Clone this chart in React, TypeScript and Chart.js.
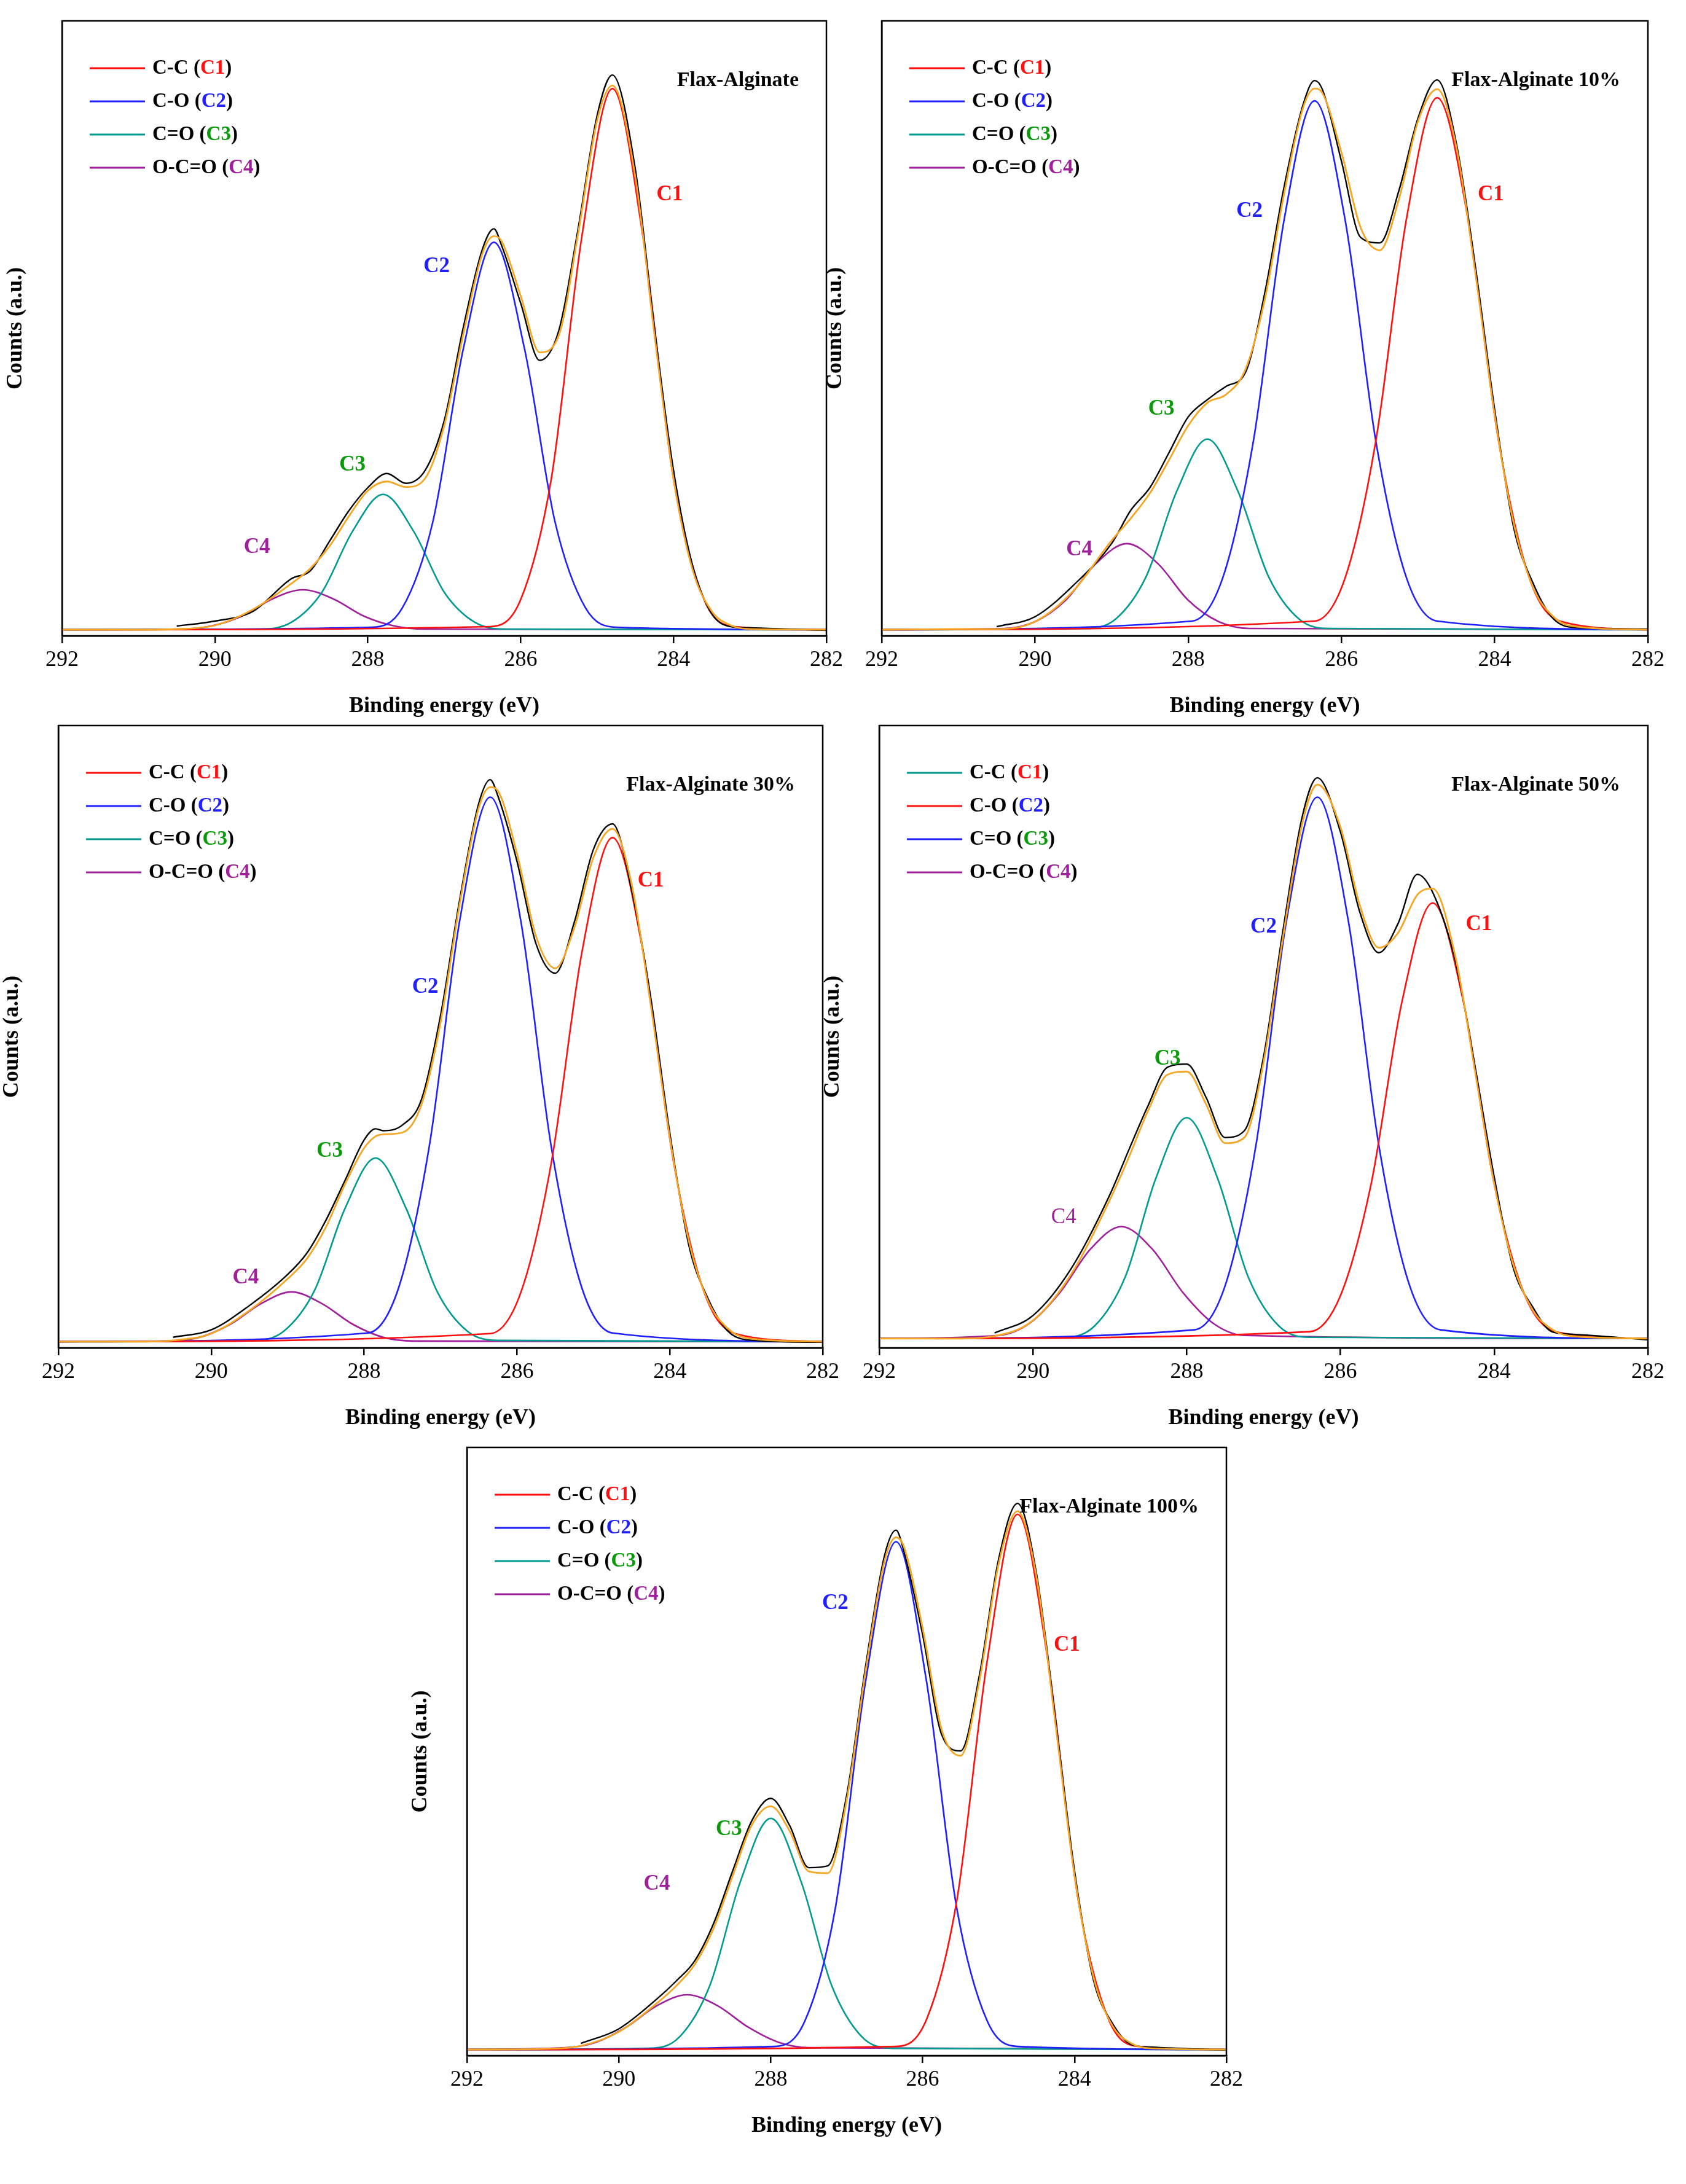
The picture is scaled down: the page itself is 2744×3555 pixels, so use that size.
import Chart from "chart.js/auto";
import { useEffect, useRef } from "react";

// offsets (eV) from each peak centre at which the half-profiles below are read
const peakOffsets = [0, 0.4, 0.8, 1.2, 1.6];

const titles = ["Flax-Alginate", "Flax-Alginate 10%", "Flax-Alginate 30%", "Flax-Alginate 50%", "Flax-Alginate 100%"];
const baselines = [1, 1, 1, 1.5, 1];

// peak centres (C1..C4) per panel
const centres = [
  [284.8, 286.35, 287.8, 288.85],
  [284.75, 286.35, 287.75, 288.8],
  [284.75, 286.35, 287.85, 288.95],
  [284.8, 286.3, 288.0, 288.85],
  [284.75, 286.35, 288.0, 289.1],
];

// component half-profiles (value at centre, +0.4, +0.8, +1.2, +1.6 eV)
const c1Values = [
  [89, 64.9, 25.5, 5.9, 1.5],
  [87.5, 67.9, 31.8, 9.5, 2.4],
  [82, 63.6, 29.8, 8.9, 2.3],
  [71.5, 55.6, 26.4, 8.4, 2.6],
  [89, 64.9, 25.5, 5.9, 1.5],
];
const c2Values = [
  [64, 46.7, 18.5, 4.5, 1.4],
  [87, 67.5, 31.6, 9.4, 2.4],
  [88.5, 68.6, 32.2, 9.6, 2.4],
  [88.5, 68.8, 32.5, 10.0, 2.9],
  [84.5, 61.6, 24.2, 5.7, 1.5],
];
const c3Values = [
  [23, 17.0, 7.1, 2.2, 1.1],
  [32, 23.5, 9.6, 2.7, 1.2],
  [30.5, 22.4, 9.2, 2.7, 1.2],
  [37, 27.3, 11.4, 3.5, 1.7],
  [39, 28.6, 11.6, 3.1, 1.2],
];
const c4Values = [
  [7.5, 6.0, 3.2, 1.6, 1.1],
  [15, 11.8, 5.8, 2.3, 1.2],
  [9, 7.1, 3.8, 1.7, 1.1],
  [19.5, 15.9, 8.9, 3.9, 2.0],
  [10, 8.2, 4.7, 2.2, 1.3],
];

// fitted envelope
const envX = [
  [292, 291, 290.5, 290, 289.5, 289, 288.75, 288.5, 288.25, 288, 287.75, 287.5, 287.25, 287, 286.75, 286.5, 286.35, 286.25, 286, 285.75, 285.5, 285.25, 285, 284.8, 284.5, 284.25, 284, 283.75, 283.5, 283.25, 283, 282],
  [292, 291, 290.5, 290, 289.5, 289, 288.75, 288.5, 288.25, 288, 287.75, 287.5, 287.25, 287, 286.75, 286.5, 286.35, 286.25, 286, 285.75, 285.5, 285.25, 285, 284.75, 284.5, 284.25, 284, 283.75, 283.5, 283.25, 283, 282],
  [292, 291, 290.5, 290, 289.5, 289, 288.75, 288.5, 288.25, 288, 287.85, 287.75, 287.5, 287.25, 287, 286.75, 286.5, 286.35, 286.25, 286, 285.75, 285.5, 285.25, 285, 284.75, 284.5, 284.25, 284, 283.75, 283.5, 283.25, 283, 282],
  [292, 291, 290.5, 290, 289.5, 289, 288.75, 288.5, 288.25, 288, 287.75, 287.5, 287.25, 287, 286.75, 286.5, 286.3, 286, 285.75, 285.5, 285.25, 285, 284.8, 284.5, 284.25, 284, 283.75, 283.5, 283.25, 283, 282],
  [292, 291, 290.5, 290, 289.5, 289.25, 289, 288.75, 288.5, 288.25, 288, 287.75, 287.5, 287.25, 287, 286.75, 286.5, 286.35, 286.25, 286, 285.75, 285.5, 285.25, 285, 284.75, 284.5, 284.25, 284, 283.75, 283.5, 283.25, 283, 282],
];
const envY = [
  [1, 1, 1.1, 1.7, 4.3, 8.5, 11, 14.6, 19.4, 23.6, 25.1, 24.2, 25.6, 34.2, 49.1, 62.2, 65, 64.2, 55.3, 46.1, 48.9, 65.3, 83.8, 89.5, 74.6, 49, 25.5, 10.7, 4, 1.7, 1.1, 1],
  [1, 1.1, 1.1, 2.3, 7.3, 15.5, 19.1, 23.2, 28.6, 34.2, 37.9, 39.3, 43.4, 54.7, 71.8, 85.9, 89, 88.3, 78.6, 66.4, 62.7, 71, 83.7, 88.9, 79.5, 58.8, 35.9, 18.2, 7.9, 3.3, 1.6, 1],
  [1, 1, 1.2, 2.3, 6, 11.1, 14.3, 19.4, 26.3, 32.1, 34, 34.3, 34.6, 39.1, 52.3, 71.3, 86.8, 90.1, 89.5, 79.4, 66.1, 61, 67.5, 78.8, 83.4, 74.5, 55.1, 33.7, 17.1, 7.5, 3.2, 1.6, 1],
  [1.5, 1.5, 1.9, 4.4, 11.9, 23.8, 30.7, 38.2, 43.9, 44.4, 39.2, 32.9, 33.8, 45.9, 65.8, 84.1, 90.5, 83.7, 71.2, 64.3, 66.7, 72.8, 73.8, 62.6, 44.5, 26.4, 13.3, 6.1, 3, 1.9, 1.5],
  [1, 1.1, 1.6, 3.9, 8.6, 11.4, 15, 21, 29.6, 37.9, 41, 36.9, 30.3, 30, 42, 63.3, 81.4, 85.2, 83.8, 70.3, 53.6, 49.3, 61.8, 80.8, 89.5, 78.6, 54.4, 29.6, 12.9, 4.9, 2, 1.2, 1],
];
// measured counts, same energies as the envelope from 290.5 eV down
const rawY = [
  [1.6, 2.4, 4.0, 9.3, 10.6, 15.4, 20.3, 24.1, 26.4, 24.8, 26.9, 35.0, 50.2, 62.9, 66.2, 63.5, 54.1, 44.8, 49.7, 66.1, 84.6, 91.2, 75.9, 50.1, 26.9, 11.4, 3.6, 1.5, 1.3, 0.9],
  [1.5, 3.1, 8.2, 15.0, 20.4, 24.1, 29.8, 35.6, 38.4, 40.6, 42.9, 55.8, 72.9, 86.4, 90.3, 88.9, 77.2, 64.8, 63.9, 72.4, 84.2, 90.4, 80.1, 59.9, 36.8, 17.5, 8.6, 3.0, 1.4, 1.1],
  [1.7, 2.9, 6.8, 11.8, 15.2, 20.5, 26.9, 33.4, 35.2, 34.9, 35.8, 39.9, 53.4, 72.0, 87.5, 91.3, 88.7, 78.2, 64.9, 60.2, 68.4, 80.1, 84.2, 73.6, 56.3, 34.5, 16.4, 7.9, 2.8, 1.3, 0.9],
  [2.4, 5.2, 12.8, 24.6, 31.9, 39.0, 45.1, 45.6, 40.3, 33.8, 34.9, 46.8, 66.9, 85.2, 91.6, 82.9, 70.1, 63.5, 68.2, 76.1, 73.2, 61.9, 45.3, 27.5, 12.8, 6.6, 2.6, 2.2, 1.3],
  [2.0, 4.4, 9.3, 12.2, 15.6, 21.8, 30.4, 38.6, 42.3, 37.8, 30.9, 31.2, 42.8, 64.1, 82.3, 86.4, 83.1, 69.2, 52.8, 50.1, 62.7, 81.6, 90.8, 79.2, 55.3, 30.4, 12.4, 5.3, 1.8, 1.4, 0.9],
];

const legendNames = ["C-C", "C-O", "C=O", "O-C=O"];
const peakNames = ["C1", "C2", "C3", "C4"];

const RED = "#ff1010";
const BLUE = "#2020ff";
const TEAL = "#009a8e";
const PURPLE = "#a0209c";
const LABEL_COLORS = [RED, BLUE, "#0a9a0a", PURPLE];
const curveColors = [RED, BLUE, TEAL, PURPLE];
const legendLineColors = [
  curveColors,
  curveColors,
  curveColors,
  [TEAL, RED, BLUE, PURPLE],
  curveColors,
];

// peak label anchors [energy, value]
const labelPos = [
  [[284.05, 71.7], [287.1, 60], [288.2, 27.8], [289.45, 14.4]],
  [[284.05, 71.7], [287.2, 69], [288.35, 36.9], [289.42, 14]],
  [[284.25, 75], [287.2, 58], [288.45, 31.6], [289.55, 11.3]],
  [[284.2, 68], [287.0, 67.6], [288.25, 46.4], [289.6, 20.9]],
  [[284.1, 67.5], [287.15, 74.3], [288.55, 37.2], [289.5, 28.2]],
];

// plot rectangles on the page: left, top, right, bottom
const plotRects = [
  [101, 34, 1345, 1035],
  [1435, 34, 2682, 1035],
  [95, 1181, 1339, 2194],
  [1431, 1181, 2682, 2194],
  [760, 2356, 1996, 3346],
];

const FONT = "'Liberation Serif', 'Times New Roman', serif";
const Y_W = 101;
const X_H = 140;

function Panel({ idx }: { idx: number }) {
  const canvasRef = useRef<HTMLCanvasElement | null>(null);
  const chartRef = useRef<Chart | null>(null);
  const [L, T, R, B] = plotRects[idx];

  useEffect(() => {
    if (!canvasRef.current) return;
    chartRef.current?.destroy();
    const base = baselines[idx];
    const comps = [c1Values, c2Values, c3Values, c4Values].map((set, k) => {
      const half = set[idx];
      const c = centres[idx][k];
      const pts = [{ x: 292, y: base }];
      for (let i = peakOffsets.length - 1; i > 0; i--) pts.push({ x: c + peakOffsets[i], y: half[i] });
      for (let i = 0; i < peakOffsets.length; i++) pts.push({ x: c - peakOffsets[i], y: half[i] });
      pts.push({ x: 282, y: base });
      return pts;
    });
    const env = envX[idx].map((x, i) => ({ x, y: envY[idx][i] }));
    const raw = envX[idx].slice(2).map((x, i) => ({ x, y: rawY[idx][i] }));

    const overlay = {
      id: "overlay",
      afterDraw(chart: any) {
        const ctx = chart.ctx;
        const a = chart.chartArea;
        const xs = chart.scales.x;
        const ys = chart.scales.y;
        ctx.save();
        ctx.strokeStyle = "#000";
        ctx.lineWidth = 2.5;
        ctx.strokeRect(a.left, a.top, a.right - a.left, a.bottom - a.top);
        // legend
        ctx.font = `bold 33px ${FONT}`;
        ctx.textBaseline = "middle";
        legendNames.forEach((name, k) => {
          const y = a.top + 77 + k * 54;
          const x0 = a.left + 45;
          ctx.strokeStyle = legendLineColors[idx][k];
          ctx.lineWidth = 3;
          ctx.beginPath();
          ctx.moveTo(x0, y);
          ctx.lineTo(x0 + 90, y);
          ctx.stroke();
          let x = x0 + 102;
          const parts: [string, string][] = [
            [name + " (", "#000"],
            [peakNames[k], LABEL_COLORS[k]],
            [")", "#000"],
          ];
          ctx.textAlign = "left";
          for (const [t, col] of parts) {
            ctx.fillStyle = col;
            ctx.fillText(t, x, y);
            x += ctx.measureText(t).width;
          }
        });
        // title
        ctx.fillStyle = "#000";
        ctx.font = `bold 34px ${FONT}`;
        ctx.textAlign = "right";
        ctx.fillText(titles[idx], a.right - 45, a.top + 97);
        // peak labels
        ctx.textAlign = "center";
        labelPos[idx].forEach(([e, v], k) => {
          const weight = idx === 3 && k === 3 ? "normal" : "bold";
          ctx.font = `${weight} 35px ${FONT}`;
          ctx.fillStyle = LABEL_COLORS[k];
          ctx.fillText(peakNames[k], xs.getPixelForValue(e), ys.getPixelForValue(v));
        });
        ctx.restore();
      },
    };

    const line = (data: any, color: string, width: number, order: number) => ({
      data,
      order,
      borderColor: color,
      borderWidth: width,
      pointRadius: 0,
      cubicInterpolationMode: "monotone" as const,
      fill: false,
    });

    chartRef.current = new Chart(canvasRef.current, {
      type: "line",
      data: {
        datasets: [
          line(raw, "#000", 2.4, 2),
          line(env, "#f5a623", 2.8, 1),
          ...comps.map((c, k) => line(c, curveColors[k], 2.6, 3)),
        ],
      },
      options: {
        animation: false,
        responsive: false,
        parsing: false as any,
        layout: { padding: { top: 34, left: 0, right: 40, bottom: 0 } },
        plugins: { legend: { display: false }, tooltip: { enabled: false } },
        scales: {
          x: {
            type: "linear",
            reverse: true,
            min: 282,
            max: 292,
            afterFit: (s: any) => {
              s.height = X_H;
            },
            ticks: {
              stepSize: 2,
              color: "#000",
              font: { family: FONT, size: 36 },
              maxRotation: 0,
              padding: 6,
            },
            grid: { display: true, drawOnChartArea: false, drawTicks: true, tickLength: 12, color: "#000", lineWidth: 2.5 },
            border: { color: "#000", width: 2.5 },
            title: {
              display: true,
              text: "Binding energy (eV)",
              color: "#000",
              font: { family: FONT, size: 36, weight: "bold" },
              padding: { top: 14 },
            },
          },
          y: {
            min: 0,
            max: 100,
            afterFit: (s: any) => {
              s.width = Y_W;
            },
            ticks: { display: false },
            grid: { display: false },
            border: { color: "#000", width: 2.5 },
            title: {
              display: true,
              text: "Counts (a.u.)",
              color: "#000",
              font: { family: FONT, size: 36, weight: "bold" },
            },
          },
        },
      },
      plugins: [overlay],
    });
    return () => {
      chartRef.current?.destroy();
    };
  }, [idx]);

  const width = R - L + Y_W + 40;
  const height = B - T + 34 + X_H;
  return (
    <canvas
      ref={canvasRef}
      width={width}
      height={height}
      style={{ position: "absolute", left: L - Y_W, top: T - 34, width, height }}
    />
  );
}

export default function App() {
  useEffect(() => {
    document.body.style.margin = "0";
  }, []);
  return (
    <div style={{ position: "relative", width: 2744, height: 3555, background: "#fff" }}>
      {titles.map((_, i) => (
        <Panel key={i} idx={i} />
      ))}
    </div>
  );
}
